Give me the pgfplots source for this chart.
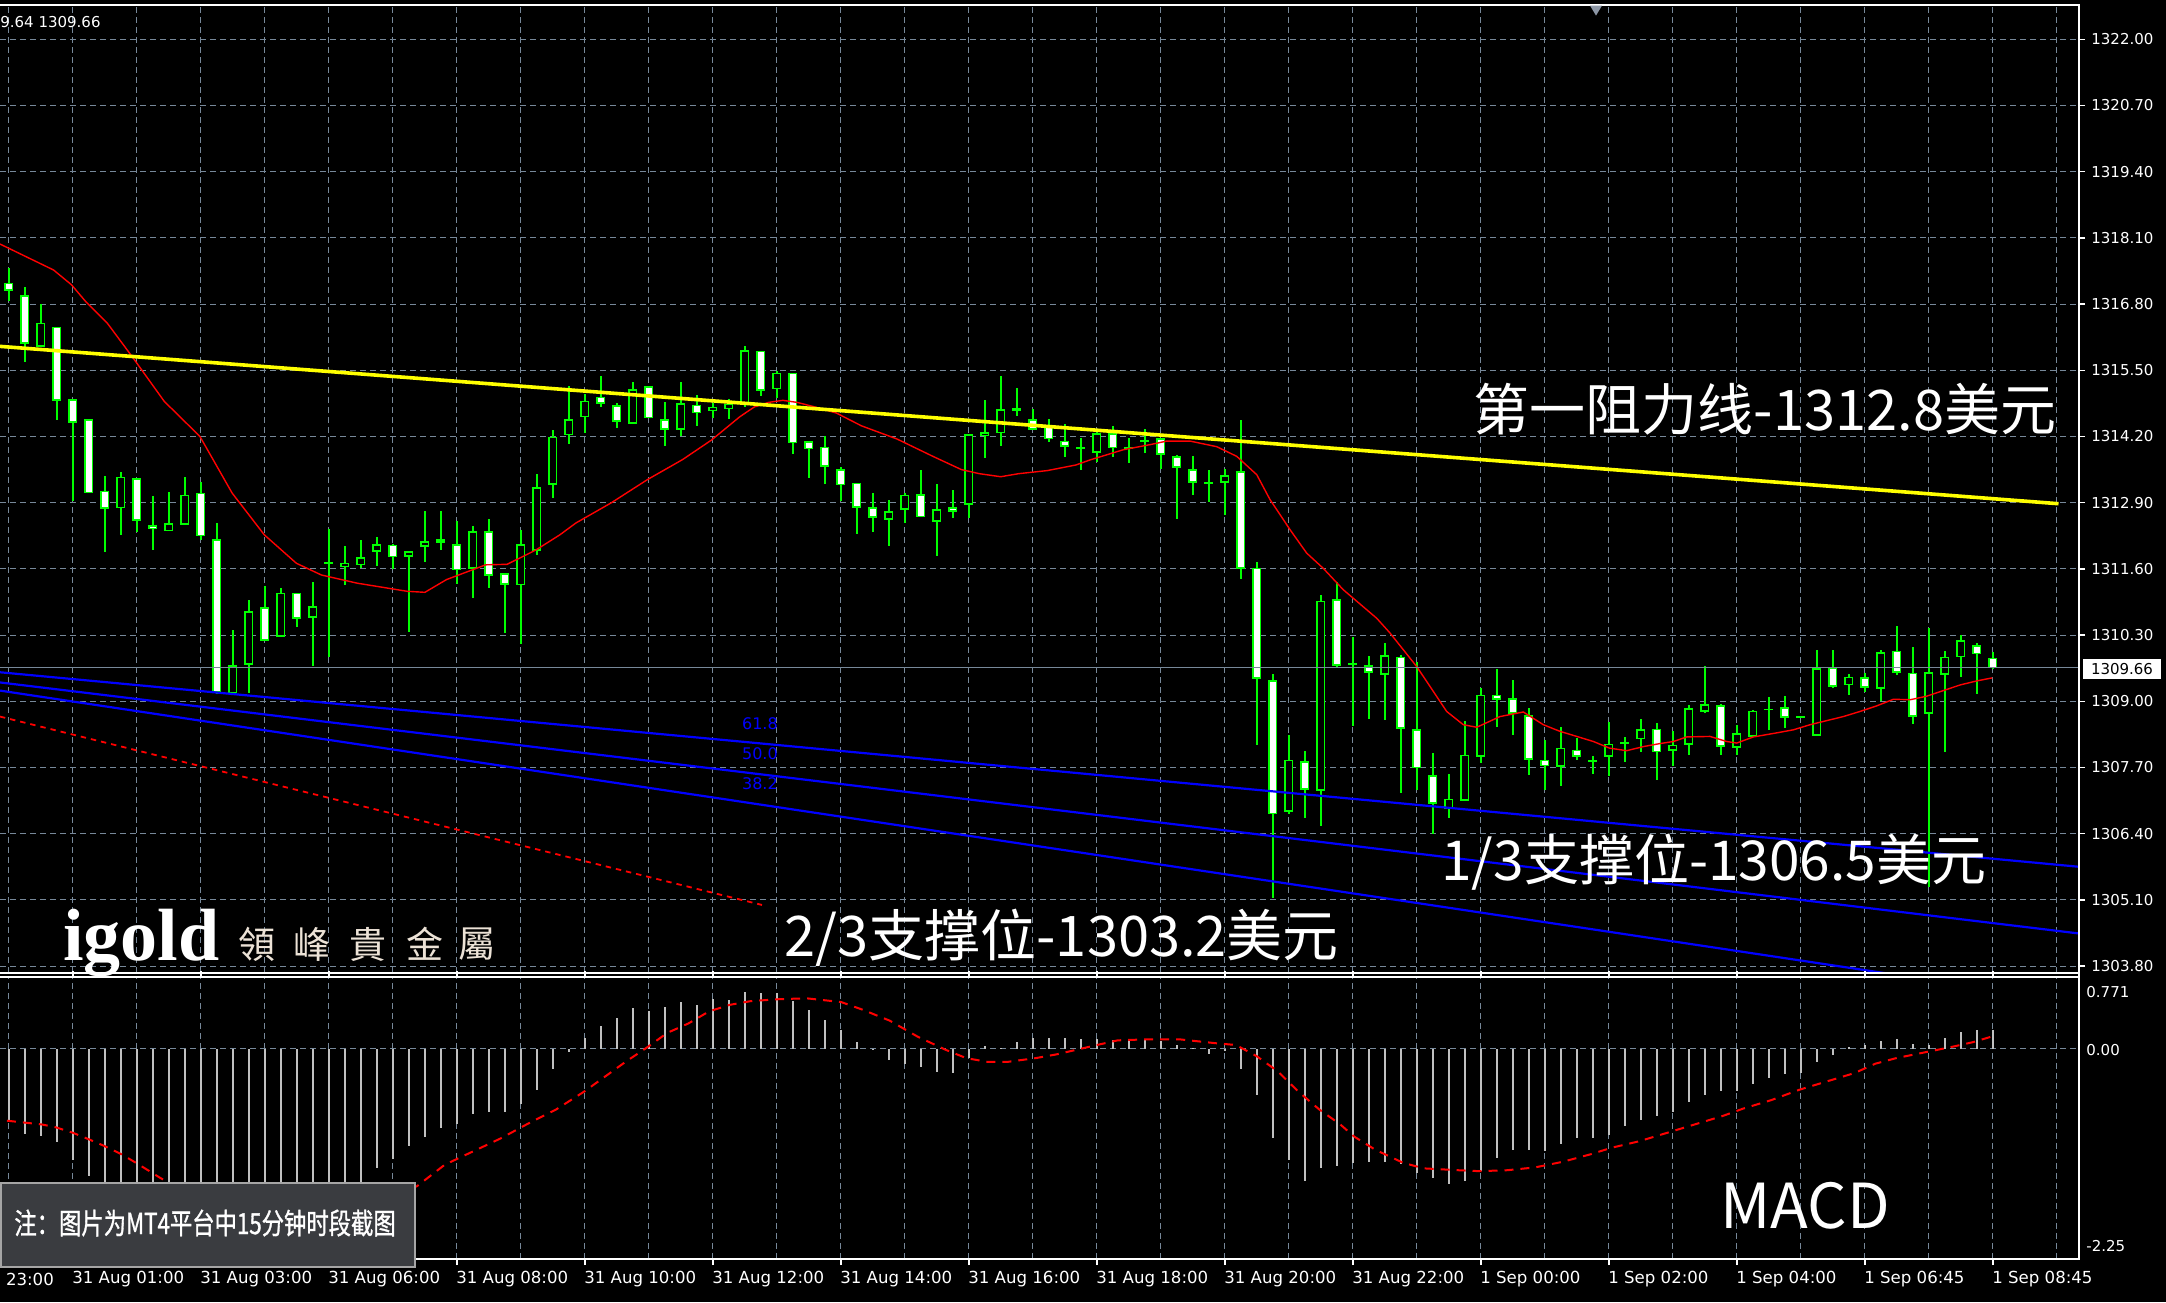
\documentclass[border=0pt]{standalone}
\usepackage{fontspec}
\setmainfont{DejaVu Sans}
\newfontfamily\cjk{Noto Sans CJK SC}
\newfontfamily\cjktc{Noto Sans CJK TC}
\newfontfamily\cjknote[FakeStretch=0.77,FakeBold=1]{Noto Sans CJK SC}
\newfontfamily\logofont{Liberation Serif}
\usepackage{pgfplots}
\usepackage{pgfplotstable}
\pgfplotsset{compat=1.18}

% MT4 green-on-black scheme
\definecolor{gridc}{RGB}{119,136,153}
\definecolor{cgreen}{RGB}{0,255,0}
\definecolor{myred}{RGB}{255,0,0}
\definecolor{myblue}{RGB}{0,0,255}
\definecolor{myyellow}{RGB}{255,255,0}
\definecolor{silverc}{RGB}{192,192,192}
\definecolor{notebg}{RGB}{58,60,64}
\definecolor{noteedge}{RGB}{165,165,165}
\definecolor{logotxt}{RGB}{236,226,214}
\definecolor{trig}{RGB}{140,150,165}

% XAUUSD M15 candles: index, open, high, low, close
\pgfplotstableread{
i o h l c
0 1317.23 1317.51 1316.86 1317.07
1 1316.98 1317.16 1315.67 1316.03
2 1315.97 1316.81 1315.95 1316.44
3 1316.36 1316.36 1314.53 1314.90
4 1314.94 1314.94 1312.94 1314.48
5 1314.55 1314.55 1313.10 1313.10
6 1313.14 1313.43 1311.94 1312.79
7 1312.79 1313.50 1312.27 1313.41
8 1313.38 1313.38 1312.33 1312.54
9 1312.48 1313.03 1311.97 1312.39
10 1312.35 1313.11 1312.35 1312.51
11 1312.47 1313.40 1312.47 1313.06
12 1313.10 1313.31 1312.18 1312.24
13 1312.20 1312.51 1309.16 1309.19
14 1309.17 1310.40 1309.17 1309.72
15 1309.72 1310.99 1309.16 1310.78
16 1310.86 1311.27 1310.19 1310.19
17 1310.27 1311.22 1310.27 1311.14
18 1311.14 1311.14 1310.46 1310.63
19 1310.63 1311.34 1309.70 1310.86
20 1311.73 1312.40 1309.88 1311.73
21 1311.65 1312.05 1311.29 1311.73
22 1311.68 1312.17 1311.63 1311.84
23 1311.95 1312.25 1311.68 1312.09
24 1312.09 1312.09 1311.61 1311.84
25 1311.84 1311.96 1310.38 1311.96
26 1312.04 1312.76 1311.75 1312.16
27 1312.19 1312.76 1311.99 1312.12
28 1312.09 1312.54 1311.30 1311.57
29 1311.60 1312.45 1311.04 1312.35
30 1312.35 1312.60 1311.23 1311.48
31 1311.53 1311.53 1310.34 1311.30
32 1311.29 1312.37 1310.13 1312.09
33 1311.96 1313.46 1311.88 1313.22
34 1313.25 1314.33 1313.01 1314.20
35 1314.23 1315.20 1314.06 1314.55
36 1314.58 1315.04 1314.27 1314.91
37 1314.99 1315.39 1314.78 1314.85
38 1314.83 1314.87 1314.38 1314.50
39 1314.46 1315.27 1314.46 1315.14
40 1315.18 1315.18 1314.55 1314.55
41 1314.55 1314.88 1314.02 1314.34
42 1314.34 1315.27 1314.22 1314.87
43 1314.83 1315.03 1314.41 1314.66
44 1314.70 1314.87 1314.57 1314.79
45 1314.74 1314.95 1314.56 1314.85
46 1314.85 1315.98 1314.78 1315.89
47 1315.89 1315.89 1315.00 1315.10
48 1315.13 1315.50 1314.97 1315.46
49 1315.46 1315.46 1313.86 1314.07
50 1314.12 1314.12 1313.39 1313.95
51 1314.00 1314.21 1313.28 1313.60
52 1313.57 1313.61 1312.94 1313.25
53 1313.30 1313.30 1312.30 1312.81
54 1312.83 1313.11 1312.33 1312.62
55 1312.58 1312.96 1312.05 1312.75
56 1312.77 1313.09 1312.50 1313.07
57 1313.07 1313.55 1312.62 1312.62
58 1312.54 1313.27 1311.87 1312.79
59 1312.83 1313.15 1312.60 1312.74
60 1312.86 1314.25 1312.61 1314.25
61 1314.20 1314.92 1313.79 1314.28
62 1314.27 1315.39 1314.02 1314.75
63 1314.75 1315.16 1314.61 1314.71
64 1314.55 1314.76 1314.34 1314.34
65 1314.40 1314.56 1314.10 1314.15
66 1314.12 1314.45 1313.79 1314.00
67 1314.00 1314.17 1313.55 1313.96
68 1313.89 1314.30 1313.71 1314.27
69 1314.27 1314.41 1313.81 1313.97
70 1313.98 1314.17 1313.68 1313.98
71 1314.15 1314.36 1313.89 1314.11
72 1314.17 1314.17 1313.56 1313.84
73 1313.84 1313.84 1312.58 1313.60
74 1313.57 1313.82 1313.05 1313.30
75 1313.28 1313.55 1312.92 1313.28
76 1313.30 1313.58 1312.66 1313.45
77 1313.53 1314.53 1311.40 1311.60
78 1311.63 1311.75 1308.15 1309.44
79 1309.44 1309.55 1305.15 1306.80
80 1306.84 1308.34 1306.80 1307.87
81 1307.83 1308.03 1306.72 1307.26
82 1307.25 1311.09 1306.57 1310.98
83 1311.01 1311.35 1309.68 1309.70
84 1309.75 1310.27 1308.51 1309.75
85 1309.72 1309.88 1308.65 1309.57
86 1309.52 1310.15 1308.65 1309.91
87 1309.88 1309.92 1307.20 1308.47
88 1308.46 1309.78 1307.27 1307.69
89 1307.56 1307.99 1306.41 1307.00
90 1306.90 1307.57 1306.72 1307.10
91 1307.05 1308.62 1307.05 1307.95
92 1307.92 1309.26 1307.79 1309.14
93 1309.14 1309.65 1308.51 1309.04
94 1309.08 1309.42 1308.34 1308.77
95 1308.73 1308.87 1307.56 1307.85
96 1307.86 1308.24 1307.27 1307.73
97 1307.73 1308.51 1307.36 1308.11
98 1308.06 1308.28 1307.86 1307.92
99 1307.84 1307.93 1307.59 1307.84
100 1307.92 1308.59 1307.54 1308.18
101 1308.19 1308.31 1307.82 1308.19
102 1308.26 1308.67 1308.02 1308.46
103 1308.46 1308.58 1307.47 1308.00
104 1308.03 1308.42 1307.74 1308.15
105 1308.15 1308.93 1307.95 1308.87
106 1308.80 1309.70 1308.77 1308.96
107 1308.93 1308.95 1307.95 1308.11
108 1308.08 1308.54 1307.95 1308.38
109 1308.31 1308.83 1308.31 1308.82
110 1308.85 1309.10 1308.45 1308.85
111 1308.89 1309.10 1308.49 1308.67
112 1308.70 1308.72 1308.68 1308.70
113 1308.31 1310.01 1308.31 1309.64
114 1309.68 1310.01 1309.27 1309.29
115 1309.32 1309.53 1309.13 1309.49
116 1309.49 1309.58 1309.19 1309.28
117 1309.25 1310.01 1309.02 1309.97
118 1310.00 1310.48 1309.52 1309.57
119 1309.57 1310.08 1308.57 1308.70
120 1308.75 1310.44 1305.35 1309.57
121 1309.52 1310.01 1308.02 1309.87
122 1309.87 1310.32 1309.48 1310.20
123 1310.11 1310.16 1309.16 1309.93
124 1309.87 1309.97 1309.65 1309.66
}\candles

% moving average (red)
\pgfplotstableread{
i v
-0.56 1317.98
2.79 1317.47
3.91 1317.18
4.80 1316.85
6.14 1316.43
7.70 1315.77
9.71 1314.89
11.94 1314.20
13.95 1313.09
15.96 1312.27
17.97 1311.71
19.53 1311.48
21.76 1311.32
24.89 1311.16
26.00 1311.14
27.35 1311.39
29.80 1311.68
31.14 1311.69
32.93 1311.97
34.44 1312.27
35.43 1312.50
37.66 1312.90
39.89 1313.35
42.12 1313.75
43.91 1314.13
45.69 1314.59
46.59 1314.78
47.48 1314.87
48.37 1314.91
49.26 1314.87
50.38 1314.78
51.72 1314.66
53.28 1314.41
55.51 1314.15
57.75 1313.81
59.53 1313.55
60.65 1313.47
61.99 1313.41
63.11 1313.47
64.89 1313.53
66.68 1313.64
67.57 1313.74
69.65 1313.94
71.32 1314.04
72.37 1314.11
73.82 1314.11
75.49 1314.00
76.74 1313.81
77.99 1313.45
78.82 1312.96
80.07 1312.37
81.11 1311.91
82.15 1311.61
83.40 1311.19
85.49 1310.63
86.32 1310.34
87.99 1309.68
88.82 1309.29
89.86 1308.80
90.90 1308.54
91.74 1308.49
93.19 1308.70
94.65 1308.79
95.90 1308.54
96.94 1308.41
97.99 1308.31
99.03 1308.21
100.04 1308.08
101.11 1308.03
102.15 1308.11
103.19 1308.17
104.03 1308.21
104.86 1308.30
106.32 1308.31
107.36 1308.21
107.99 1308.18
109.03 1308.30
110.49 1308.38
111.53 1308.44
112.57 1308.54
113.61 1308.62
114.65 1308.70
115.69 1308.80
116.74 1308.91
117.78 1309.04
118.82 1309.03
119.86 1309.10
120.90 1309.21
121.94 1309.32
122.99 1309.40
123.96 1309.46
}\matab

% MACD histogram
\pgfplotstableread{
i v
0 -0.76
1 -0.91
2 -0.93
3 -1.00
4 -1.19
5 -1.36
6 -1.50
7 -1.62
8 -1.72
9 -1.78
10 -1.82
11 -1.82
12 -1.80
13 -1.95
14 -2.00
15 -1.95
16 -1.88
17 -1.80
18 -1.75
19 -1.68
20 -1.60
21 -1.54
22 -1.47
23 -1.28
24 -1.18
25 -1.04
26 -0.94
27 -0.85
28 -0.80
29 -0.70
30 -0.68
31 -0.68
32 -0.59
33 -0.44
34 -0.22
35 -0.03
36 0.12
37 0.24
38 0.33
39 0.44
40 0.40
41 0.45
42 0.50
43 0.47
44 0.53
45 0.52
46 0.61
47 0.60
48 0.60
49 0.51
50 0.42
51 0.31
52 0.20
53 0.07
54 -0.01
55 -0.12
56 -0.16
57 -0.20
58 -0.25
59 -0.26
60 -0.10
61 0.03
62 0.01
63 0.07
64 0.11
65 0.11
66 0.11
67 0.10
68 0.10
69 0.09
70 0.10
71 0.10
72 0.08
73 0.04
74 0.01
75 -0.06
76 -0.02
77 -0.22
78 -0.50
79 -0.96
80 -1.19
81 -1.42
82 -1.28
83 -1.25
84 -1.22
85 -1.21
86 -1.21
87 -1.23
88 -1.33
89 -1.38
90 -1.45
91 -1.42
92 -1.31
93 -1.17
94 -1.08
95 -1.08
96 -1.09
97 -1.02
98 -0.96
99 -0.96
100 -0.92
101 -0.83
102 -0.76
103 -0.72
104 -0.68
105 -0.57
106 -0.49
107 -0.45
108 -0.45
109 -0.38
110 -0.31
111 -0.27
112 -0.26
113 -0.14
114 -0.07
115 0.02
116 0.04
117 0.08
118 0.10
119 0.05
120 0.04
121 0.11
122 0.18
123 0.20
124 0.20
}\histtab

% MACD signal (red dotted)
\pgfplotstableread{
i v
-0.12 -0.77
2.05 -0.81
2.92 -0.84
4.01 -0.90
5.01 -0.97
5.96 -1.04
7.05 -1.13
8.13 -1.24
9.44 -1.38
11 -1.53
13 -1.71
15 -1.83
17 -1.87
19 -1.85
21 -1.79
23 -1.66
25.51 -1.47
27.25 -1.24
28.99 -1.10
30.73 -0.96
32.46 -0.80
34.20 -0.65
35.94 -0.46
37.24 -0.30
38.54 -0.14
39.85 0.01
41.15 0.17
42.46 0.27
43.76 0.40
45.06 0.47
46.37 0.51
48.10 0.53
49.84 0.54
52.01 0.50
53.32 0.42
55.06 0.30
56.79 0.13
58.53 -0.01
59.83 -0.10
61.14 -0.14
62.44 -0.14
64.18 -0.10
65.48 -0.06
67.00 0.00
68.00 0.04
69.30 0.09
71.04 0.10
73.21 0.10
75.38 0.06
76.69 0.04
77.99 -0.08
79.29 -0.24
80.60 -0.46
81.90 -0.65
83.21 -0.81
84.08 -0.94
85.39 -1.08
87.13 -1.22
88.42 -1.28
90.59 -1.30
91.90 -1.31
93.64 -1.30
95.37 -1.27
97.11 -1.21
98.84 -1.13
100.15 -1.06
101.89 -0.99
103.63 -0.90
105.36 -0.81
107.10 -0.72
108.40 -0.64
110.14 -0.55
111.88 -0.44
113.61 -0.35
115.35 -0.26
116.65 -0.16
117.96 -0.10
119.70 -0.04
121.43 0.02
122.74 0.07
123.91 0.13
}\sigtab

\pgfplotsset{
  /pgf/number format/assume math mode=true,
  mt/.style={
    scale only axis, width=1039.5pt,
    xmin=-0.556, xmax=129.38,
    axis line style={draw=none},
    xtick={0,4,...,128}, xticklabels={}, xtick style={draw=none}, xmajorgrids,
    grid style={gridc, line width=0.5pt, dash pattern=on 3pt off 2pt},
    ytick pos=right, yticklabel pos=right, tick align=outside,
    major tick length=3pt,
    ticklabel style={text=white, font=\fontsize{7.5}{9}\selectfont},
  },
}

\begin{document}
\begin{tikzpicture}
\fill[black] (0,0) rectangle (1083pt,651pt);

% ---------- price panel ----------
\begin{axis}[mt, at={(0pt,164.65pt)}, anchor=south west, height=484pt,
  ymin=1303.67, ymax=1322.68,
  ytick={1303.8,1305.1,1306.4,1307.7,1309.0,1310.3,1311.6,1312.9,1314.2,1315.5,1316.8,1318.1,1319.4,1320.7,1322.0},
  ymajorgrids,
  ytick style={white, line width=0.7pt},
  yticklabel style={anchor=west, inner sep=0pt, xshift=3pt,
    /pgf/number format/fixed, /pgf/number format/fixed zerofill,
    /pgf/number format/precision=2, /pgf/number format/1000 sep={}},
]
% wicks
\addplot[draw=none, mark=none, error bars/.cd, y dir=both, y explicit, error mark=none,
  error bar style={draw=cgreen, line width=0.8pt, solid}]
  table[x=i, y expr={(\thisrow{h}+\thisrow{l})/2}, y error expr={(\thisrow{h}-\thisrow{l})/2}] {\candles};
% body outlines
\addplot[draw=none, mark=none, error bars/.cd, y dir=both, y explicit, error mark=none,
  error bar style={draw=cgreen, line width=4.5pt, solid}]
  table[x=i, y expr={(\thisrow{o}+\thisrow{c})/2}, y error expr={max(abs(\thisrow{c}-\thisrow{o})/2,0.018)}] {\candles};
% bull bodies (black)
\addplot[draw=none, mark=none, restrict expr to domain={\thisrow{c}-\thisrow{o}}{0.07:1000},
  error bars/.cd, y dir=both, y explicit, error mark=none,
  error bar style={draw=black, line width=2.8pt, solid}]
  table[x=i, y expr={(\thisrow{o}+\thisrow{c})/2}, y error expr={abs(\thisrow{c}-\thisrow{o})/2-0.033}] {\candles};
% bear bodies (white)
\addplot[draw=none, mark=none, restrict expr to domain={\thisrow{c}-\thisrow{o}}{-1000:-0.07},
  error bars/.cd, y dir=both, y explicit, error mark=none,
  error bar style={draw=white, line width=2.8pt, solid}]
  table[x=i, y expr={(\thisrow{o}+\thisrow{c})/2}, y error expr={abs(\thisrow{c}-\thisrow{o})/2-0.033}] {\candles};
% moving average
\addplot[myred, line width=0.7pt] table[x=i, y=v] {\matab};
% fibonacci fan and red dashed level
\addplot[myred, line width=0.9pt, dash pattern=on 2.7pt off 2.5pt] coordinates {(-0.556,1308.70) (47.07,1305.00)};
\addplot[myblue, line width=1.1pt] coordinates {(-0.556,1309.57) (129.38,1305.75)};
\addplot[myblue, line width=1.1pt] coordinates {(-0.556,1309.37) (129.38,1304.44)};
\addplot[myblue, line width=1.1pt] coordinates {(-0.556,1309.21) (129.38,1303.09)};
% resistance trend line
\addplot[myyellow, line width=1.8pt] coordinates {(-0.556,1315.97) (128.1,1312.88)};
% bid line
\addplot[gridc, line width=0.6pt] coordinates {(-1,1309.66) (130,1309.66)};
\end{axis}

% ---------- MACD panel ----------
\begin{axis}[mt, at={(0pt,21.5pt)}, anchor=south west, height=141.15pt,
  ymin=-2.25, ymax=0.771,
  ytick={0}, yticklabels={}, ymajorgrids, ytick style={draw=none},
  extra x ticks={4,12,...,124},
  extra x tick labels={31 Aug 01:00,31 Aug 03:00,31 Aug 06:00,31 Aug 08:00,31 Aug 10:00,31 Aug 12:00,31 Aug 14:00,31 Aug 16:00,31 Aug 18:00,31 Aug 20:00,31 Aug 22:00,1 Sep 00:00,1 Sep 02:00,1 Sep 04:00,1 Sep 06:45,1 Sep 08:45},
  extra x tick style={grid=none, xtick style={draw=white, line width=0.8pt},
    xticklabel style={anchor=north west, inner sep=0pt, xshift=-0.5pt, yshift=-3pt, font=\fontsize{8.3}{9}\selectfont}},
]
\addplot[draw=none, mark=none, error bars/.cd, y dir=both, y explicit, error mark=none,
  error bar style={draw=silverc, line width=0.9pt, solid}]
  table[x=i, y expr={\thisrow{v}/2}, y error expr={abs(\thisrow{v})/2}] {\histtab};
\addplot[myred, line width=1pt, dash pattern=on 4.5pt off 3.5pt] table[x=i, y=v] {\sigtab};
\end{axis}

% ---------- frames ----------
\draw[white, line width=1pt] (0,648.65pt) -- (1039.5pt,648.65pt) -- (1039.5pt,21.5pt) -- (0,21.5pt);
\draw[white, line width=1pt] (0,164.65pt) -- (1039.5pt,164.65pt);
\draw[white, line width=1pt] (0,162.65pt) -- (1039.5pt,162.65pt);

% ---------- labels outside the axes ----------
\node[anchor=west, inner sep=0pt, text=white, font=\fontsize{7.5}{9}\selectfont] at (0pt,640.15pt) {9.64 1309.66};
\fill[trig] (795pt,648.2pt) -- (801pt,648.2pt) -- (798pt,643.2pt) -- cycle;
\node[anchor=west, inner sep=0pt, text=white, font=\fontsize{8.3}{9}\selectfont] at (2.8pt,11.5pt) {23:00};
\fill[white] (1041.5pt,311.5pt) rectangle (1080.5pt,321.5pt);
\node[inner sep=0pt, text=black, font=\fontsize{7.5}{9}\selectfont] at (1061pt,316.5pt) {1309.66};
\node[anchor=west, inner sep=0pt, text=white, font=\fontsize{7.5}{9}\selectfont] at (1043pt,155.15pt) {0.771};
\node[anchor=west, inner sep=0pt, text=white, font=\fontsize{7.5}{9}\selectfont] at (1043pt,125.85pt) {0.00};
\node[anchor=west, inner sep=0pt, text=white, font=\fontsize{7.5}{9}\selectfont] at (1043pt,28pt) {-2.25};

% fibonacci level labels
\node[anchor=west, inner sep=0pt, text=myblue, font=\fontsize{8}{9}\selectfont] at (370.85pt,289.35pt) {61.8};
\node[anchor=west, inner sep=0pt, text=myblue, font=\fontsize{8}{9}\selectfont] at (370.85pt,274.35pt) {50.0};
\node[anchor=west, inner sep=0pt, text=myblue, font=\fontsize{8}{9}\selectfont] at (370.85pt,259.35pt) {38.2};

% annotations
\node[anchor=west, inner sep=0pt, text=white, font=\cjk\fontsize{28}{30}\selectfont] at (736.75pt,446.5pt) {第一阻力线-1312.8美元};
\node[anchor=west, inner sep=0pt, text=white, font=\cjk\fontsize{27.5}{30}\selectfont] at (720.5pt,220pt) {1/3支撑位-1306.5美元};
\node[anchor=west, inner sep=0pt, text=white, font=\cjk\fontsize{28}{30}\selectfont] at (392pt,182pt) {2/3支撑位-1303.2美元};
\node[anchor=west, inner sep=0pt, text=white, font=\cjk\fontsize{31}{33}\selectfont] at (860pt,48pt) {MACD};

% logo
\node[anchor=base west, inner sep=0pt, text=white, font=\logofont\bfseries\fontsize{37}{40}\selectfont] at (31.5pt,171pt) {igold};
\foreach \ch/\xx in {領/128.35, 峰/155.85, 貴/184.15, 金/212.5, 屬/238.35}{
  \node[inner sep=0pt, text=logotxt, font=\cjktc\fontsize{18.5}{20}\selectfont] at (\xx pt,179pt) {\ch};
}

% note box
\draw[fill=notebg, draw=noteedge, line width=1pt] (0.5pt,17.65pt) rectangle (207.5pt,59.65pt);
\node[anchor=west, inner sep=0pt, text=white, font=\cjknote\fontsize{14.5}{16}\selectfont] at (7pt,39.5pt) {注：图片为MT4平台中15分钟时段截图};

\pgfresetboundingbox
\path (0,0) rectangle (1083pt,651pt);
\end{tikzpicture}
\end{document}
